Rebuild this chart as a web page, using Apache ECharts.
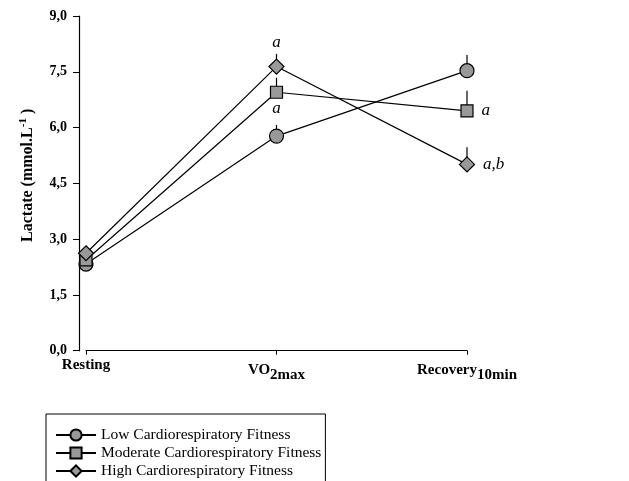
<!DOCTYPE html>
<html><head><meta charset="utf-8">
<script src="https://cdn.jsdelivr.net/npm/echarts@6/dist/echarts.min.js"></script>
<style>html,body{margin:0;padding:0;background:#fff}#c{width:629px;height:481px}</style>
</head><body><div id="c"></div>
<script>
const categories = ['Resting', 'VO2max', 'Recovery10min'];
const yTicks = [0, 1.5, 3, 4.5, 6, 7.5, 9];
const lowFitness = [2.33, 5.77, 7.53];
const lowErr = [0.05, 0.30, 0.42];
const lowNotes = ['', '', ''];
const modFitness = [2.44, 6.95, 6.45];
const modErr = [0.05, 0.39, 0.54];
const modNotes = ['', 'a', 'a'];
const highFitness = [2.62, 7.64, 5.01];
const highErr = [0.05, 0.34, 0.46];
const highNotes = ['', 'a', 'a,b'];
const seriesNames = ['Low Cardiorespiratory Fitness', 'Moderate Cardiorespiratory Fitness', 'High Cardiorespiratory Fitness'];

const serif = '"Liberation Serif","Times New Roman",serif';
const notePos = {
  low: [null, null, null],
  mod: [null, 'bottom', 'right'],
  high: [null, 'top', 'right']
};
function mkData(vals, notes, pos) {
  return vals.map((v, i) => {
    if (!notes[i]) return v;
    return {
      value: v,
      label: {
        show: true, formatter: notes[i], position: pos[i],
        distance: pos[i] === 'top' ? 7 : (pos[i] === 'bottom' ? 1 : 8),
        fontFamily: serif, fontStyle: 'italic', fontSize: 17, color: '#000'
      }
    };
  });
}
function lineSeries(name, vals, notes, pos, symbol, size) {
  return {
    name, type: 'line', data: mkData(vals, notes, pos),
    symbol, symbolSize: size, z: 3,
    itemStyle: { color: '#999', borderColor: '#000', borderWidth: 1.2 },
    lineStyle: { color: '#000', width: 1.2 },
    label: { show: false },
    emphasis: { disabled: true }
  };
}
function errSeries(vals, errs) {
  return {
    type: 'custom', z: 1, silent: true,
    data: vals.map((v, i) => [i, v, errs[i]]),
    renderItem: (params, api) => {
      const p0 = api.coord([api.value(0), api.value(1)]);
      const p1 = api.coord([api.value(0), api.value(1) + api.value(2)]);
      return { type: 'line', shape: { x1: p0[0], y1: p0[1], x2: p1[0], y2: p1[1] },
        style: { stroke: '#000', lineWidth: 1.2 } };
    }
  };
}

const chart = echarts.init(document.getElementById('c'), null, { renderer: 'canvas' });
chart.setOption({
  animation: false,
  backgroundColor: '#fff',
  grid: { left: 86, right: 162, top: 16, bottom: 130.3 },
  xAxis: {
    type: 'category', data: categories, boundaryGap: false, offset: 2,
    axisLine: { lineStyle: { color: '#000', width: 1.2 } },
    axisTick: { alignWithLabel: true, length: 4, lineStyle: { color: '#000' } },
    axisLabel: {
      margin: 5, color: '#000', fontFamily: serif, fontWeight: 'bold', fontSize: 15,
      formatter: v => v === 'VO2max' ? 'VO{sub|2max}' : (v === 'Recovery10min' ? 'Recovery{sub|10min}' : v),
      rich: { sub: { fontFamily: serif, fontWeight: 'bold', fontSize: 15, padding: [10, 0, 0, 0] } }
    }
  },
  yAxis: {
    type: 'value', min: 0, max: 9, interval: 1.5, offset: 7,
    axisLine: { show: true, lineStyle: { color: '#000', width: 1.2 } },
    axisTick: { show: true, length: 6, lineStyle: { color: '#000' } },
    splitLine: { show: false },
    axisLabel: {
      margin: 12, color: '#000', fontFamily: serif, fontWeight: 'bold', fontSize: 14,
      formatter: v => yTicks.includes(v) ? v.toFixed(1).replace('.', ',') : ''
    },
    name: 'Lactate (mmol.L{sup|-1} )', nameLocation: 'middle', nameGap: 42, nameRotate: 90,
    nameTextStyle: {
      color: '#000', fontFamily: serif, fontWeight: 'bold', fontSize: 16, padding: [0, 0, 0, 16],
      rich: { sup: { fontFamily: serif, fontWeight: 'bold', fontSize: 11, padding: [0, 0, 8, 0] } }
    }
  },
  legend: {
    orient: 'vertical', left: 46, top: 414, height: 60,
    data: seriesNames,
    borderColor: '#000', borderWidth: 1, borderRadius: 0,
    padding: [13, 4, 30, 9], itemGap: 2, itemWidth: 40, itemHeight: 14,
    textStyle: { color: '#000', fontFamily: serif, fontSize: 15.5 },
    selectedMode: false
  },
  series: [
    errSeries(lowFitness, lowErr),
    errSeries(modFitness, modErr),
    errSeries(highFitness, highErr),
    lineSeries(seriesNames[0], lowFitness, lowNotes, notePos.low, 'circle', 14),
    lineSeries(seriesNames[1], modFitness, modNotes, notePos.mod, 'rect', 12),
    lineSeries(seriesNames[2], highFitness, highNotes, notePos.high, 'diamond', 15)
  ]
});
</script></body></html>
